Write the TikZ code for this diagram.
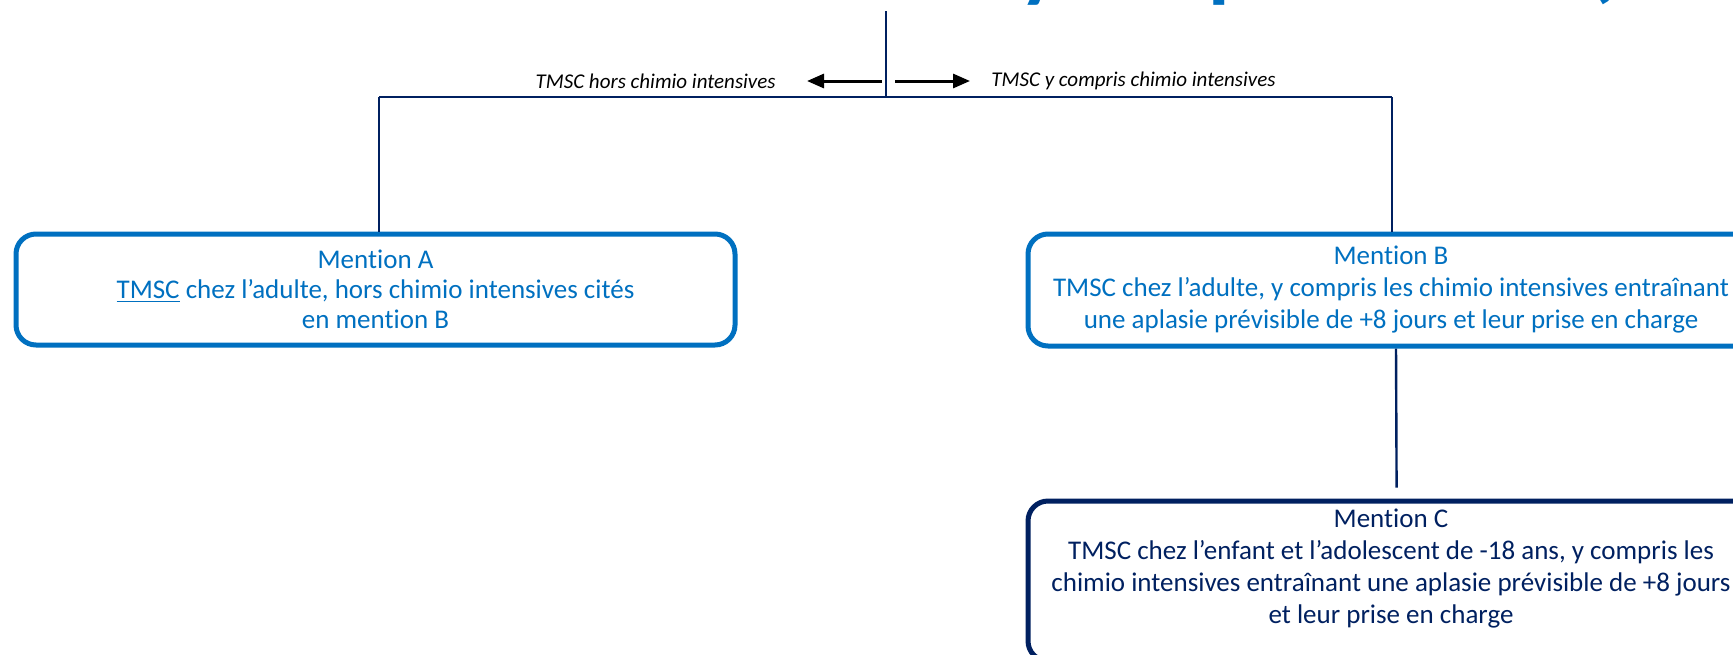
\documentclass[tikz,border=0pt]{standalone}
\usepackage{fontspec}
\setmainfont{Carlito}[Ligatures=NoCommon]
\usetikzlibrary{arrows.meta,positioning}
\definecolor{mblue}{RGB}{0,112,192}
\definecolor{mnavy}{RGB}{0,32,96}
\tikzset{
  mention/.style={draw=mblue,line width=2.5pt,rounded corners=10pt,align=center,
    text=mblue,font=\fontsize{13.5}{15}\selectfont,inner sep=0pt},
  link/.style={draw=mnavy,line width=1.2pt},
  pick/.style={-{Triangle[length=8.5pt,width=7pt]},line width=1.5pt},
  choice/.style={font=\fontsize{10.5}{12}\selectfont\itshape,inner sep=0pt},
  cut/.style={text=mblue,font=\fontsize{44}{44}\selectfont\bfseries,anchor=base,inner sep=0pt}
}
\begin{document}
\begin{tikzpicture}[x=0.5pt,y=-0.5pt]
  \useasboundingbox (0,0) rectangle (1733,654);
  \begin{scope}
    \clip (0,0) rectangle (1733,654);
    \node[cut] (ty) at (1040,-9) {y};
    \node[cut] (tp) at (1232,-9) {p};
    \node[cut] (tb) at (1600,-9) {(};
    \node[mention,minimum width=359.5pt,minimum height=55.5pt] (boxA) at (375.5,289.5)
      {Mention A\\\underline{TMSC} chez l’adulte, hors chimio intensives cités\\en mention B};
    \node[mention,minimum width=363pt,minimum height=56pt,
      font=\fontsize{13.5}{16}\selectfont] (boxB) at (1391,290)
      {Mention B\\TMSC chez l’adulte, y compris les chimio intensives entraînant\\une aplasie prévisible de +8 jours et leur prise en charge};
    \node[mention,draw=mnavy,text=mnavy,minimum width=363pt,minimum height=80pt,
      text depth=15pt,font=\fontsize{13.5}{16}\selectfont] (boxC) at (1391,581)
      {Mention C\\TMSC chez l’enfant et l’adolescent de -18 ans, y compris les\\chimio intensives entraînant une aplasie prévisible de +8 jours\\et leur prise en charge};
  \end{scope}
  \coordinate (top) at (886,11);
  \coordinate (split) at (886,97);
  \coordinate (lturn) at (379,97);
  \coordinate (rturn) at (1392,97);
  \draw[link] (top) -- (split);
  \draw[link] (lturn) -- (rturn);
  \draw[link] (lturn) -- (lturn |- boxA.north);
  \draw[link] (rturn) -- (rturn |- boxB.north);
  \draw[link] ([xshift=2.5pt]boxB.south) -- ([xshift=2.8pt,yshift=5.5pt]boxC.north);
  \coordinate (lfrom) at (882,81);
  \coordinate (lto) at (807,81);
  \coordinate (rfrom) at (895,81);
  \coordinate (rto) at (970,81);
  \draw[pick] (lfrom) -- (lto);
  \draw[pick] (rfrom) -- (rto);
  \node[choice,left=15.5pt of lto] (lhors) {TMSC hors chimio intensives};
  \node[choice,right=10.5pt of rto] (rcompris) {TMSC y compris chimio intensives};
\end{tikzpicture}
\end{document}
